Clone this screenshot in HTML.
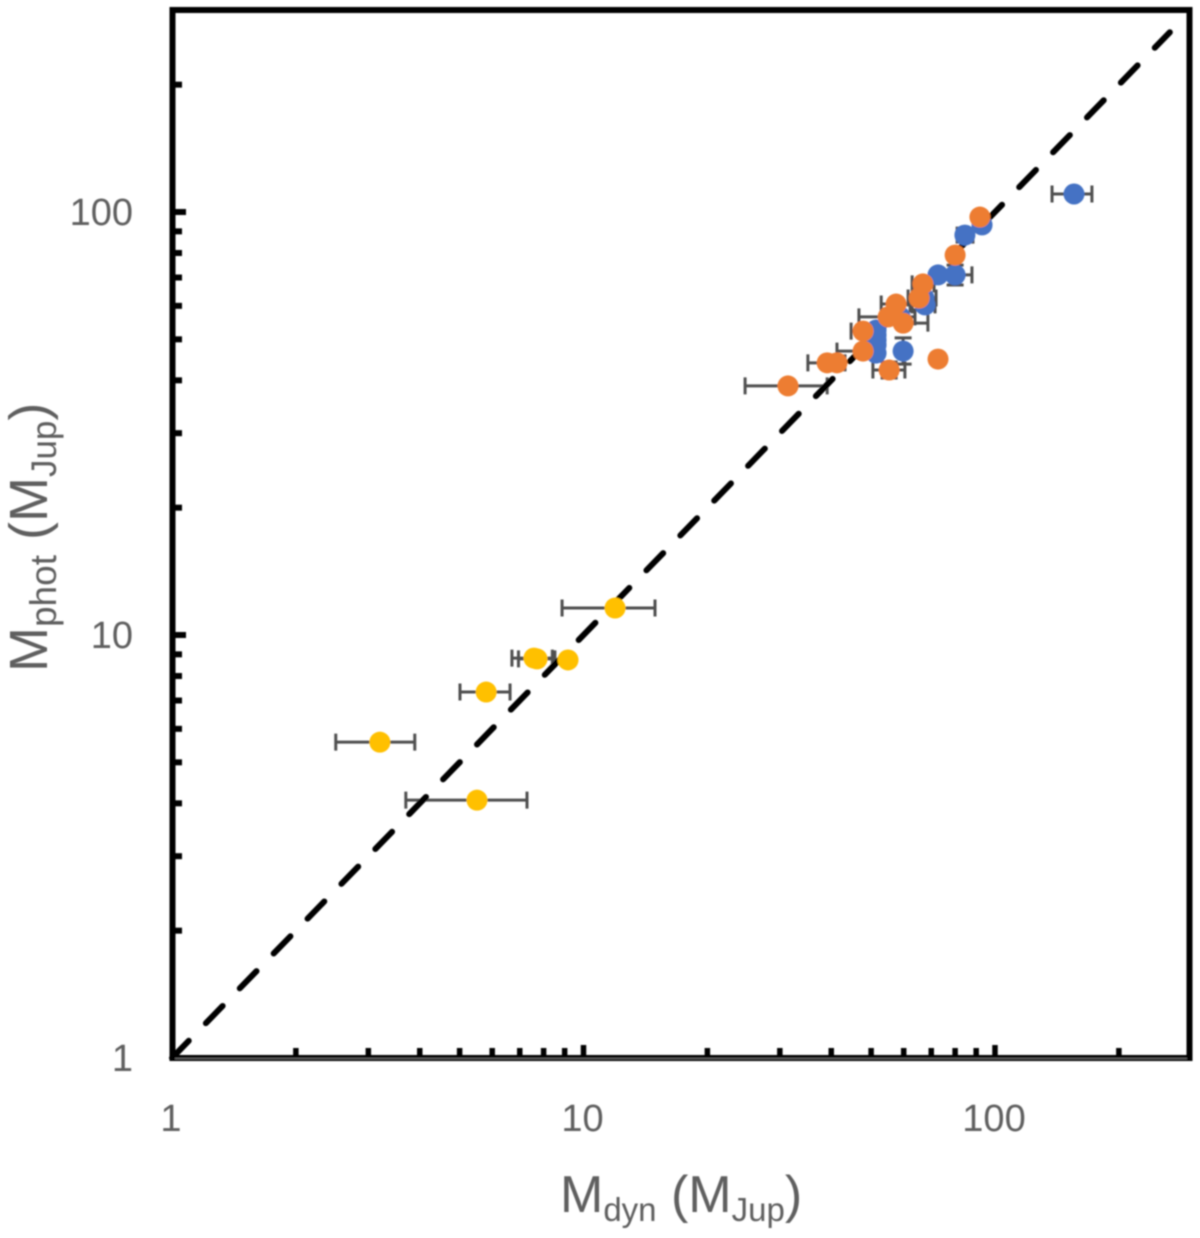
<!DOCTYPE html>
<html lang="en">
<head>
<meta charset="utf-8">
<title>Mphot vs Mdyn</title>
<style>
html,body{margin:0;padding:0;background:#fff;width:1200px;height:1238px;overflow:hidden}
svg{display:block}
text{font-family:"Liberation Sans",sans-serif;fill:#5f5f5f}
</style>
</head>
<body>
<svg id="chart" width="1200" height="1238" viewBox="0 0 1200 1238" xmlns="http://www.w3.org/2000/svg">
<defs><filter id="soft" x="-5%" y="-5%" width="110%" height="110%"><feGaussianBlur stdDeviation="0.7"/></filter></defs>
<g id="root" filter="url(#soft)">
<g id="ticks"></g>
<g id="bars"></g>
<g id="line"></g>
<g id="points"></g>
<rect x="172.5" y="10" width="1017" height="1048" fill="none" stroke="#000" stroke-width="6"/>
<line x1="175" y1="1058.5" x2="1187" y2="1058.5" stroke="#666" stroke-width="1.5"/>
<g id="labels"></g>
<text x="560" y="1212" font-size="52">M<tspan font-size="33" dy="9">dyn</tspan><tspan dy="-9"> (M</tspan><tspan font-size="33" dy="9">Jup</tspan><tspan dy="-9">)</tspan></text>
<text transform="translate(47,672) rotate(-90)" x="0" y="0" font-size="54">M<tspan font-size="37" dy="9">phot</tspan><tspan dy="-9"> (M</tspan><tspan font-size="35" dy="9">Jup</tspan><tspan dy="-9">)</tspan></text>
</g>
</svg>
<script>
const xTickValues = [2,3,4,5,6,7,8,9,10,20,30,40,50,60,70,80,90,100,200];
const yTickValues = [2,3,4,5,6,7,8,9,10,20,30,40,50,60,70,80,90,100,200];
const majorTicks = [10,100];
const xTickLabels = [1,10,100];
const yTickLabels = [1,10,100];
const lineX = [1,266];
const lineY = [1,266];

const blueX = [155.6,93.0,84.5,72.7,80.0,67.6,67.2,51.4,51.4,51.4,51.4,51.4,59.8,58.8];
const blueY = [110.3,93.2,88.2,71.0,71.0,60.3,62.6,52.6,51.2,49.8,48.5,46.4,46.9,56.5];
const blueXLow = [137.6,null,80.9,null,73.5,62.9,null,null,null,null,null,null,null,null];
const blueXHigh = [172,null,88.4,null,87.9,71.5,null,null,null,null,null,null,null,null];
const blueYLow = [null,null,null,null,67.2,null,null,null,null,null,null,null,43.7,null];
const blueYHigh = [null,null,null,null,74.9,null,null,null,null,null,null,null,50.4,null];

const yellowX = [3.20,5.51,5.80,7.58,7.71,9.17,11.93];
const yellowY = [5.58,4.07,7.33,8.82,8.78,8.73,11.58];
const yellowXLow = [2.50,3.70,5.01,6.70,6.95,null,8.87];
const yellowXHigh = [3.89,7.29,6.63,8.40,8.52,null,14.92];
const yellowYLow = [null,null,null,null,null,null,null];
const yellowYHigh = [null,null,null,null,null,null,null];

const orangeX = [91.9,80.0,66.8,65.4,57.5,55.0,59.8,47.8,47.8,39.1,41.3,55.3,72.7,31.4];
const orangeY = [97.3,79.1,67.6,62.6,60.6,56.5,54.6,52.3,46.9,44.0,44.0,42.3,44.9,38.8];
const orangeXLow = [null,null,62.9,61.5,52.9,46.7,52.5,44.7,41.3,35.1,null,50.5,null,24.7];
const orangeXHigh = [null,null,71.1,71.9,62.2,63.9,68.7,51.4,52.5,43.2,null,60.4,null,39.1];
const orangeYLow = [null,null,null,null,null,null,null,null,null,null,null,40.5,null,null];
const orangeYHigh = [null,null,null,null,null,null,null,null,null,null,null,44.2,null,null];

const NS = 'http://www.w3.org/2000/svg';
const xScale = v => 172 + 411.5 * Math.log10(v);
const yScale = v => 1058 - 423 * Math.log10(v);

function make(tag, parent, attrs) {
  const el = document.createElementNS(NS, tag);
  for (const k in attrs) el.setAttribute(k, attrs[k]);
  parent.appendChild(el);
  return el;
}

const ticks = document.getElementById('ticks');
xTickValues.forEach(v => {
  const top = majorTicks.includes(v) ? 1045 : 1048;
  const el = make('line', ticks, {x1: xScale(v), x2: xScale(v), y1: top, y2: 1056, stroke: '#000', 'stroke-width': 5.5});
  
  
});
yTickValues.forEach(v => {
  const right = majorTicks.includes(v) ? 186 : 182;
  const el = make('line', ticks, {x1: 174, x2: right, y1: yScale(v), y2: yScale(v), stroke: '#000', 'stroke-width': 6});
  
  
});

const labels = document.getElementById('labels');
xTickLabels.forEach(v => {
  const el = make('text', labels, {x: xScale(v) - 1, y: 1131, 'font-size': 38, 'text-anchor': 'middle'});
  el.textContent = v;
  
  
});
yTickLabels.forEach(v => {
  const el = make('text', labels, {x: 133, y: yScale(v) + 13, 'font-size': 38, 'text-anchor': 'end'});
  el.textContent = v;
  
  
});

const lineGroup = document.getElementById('line');
const identity = make('line', lineGroup, {
  x1: xScale(lineX[0]), y1: yScale(lineY[0]), x2: xScale(lineX[1]), y2: yScale(lineY[1]),
  stroke: '#000', 'stroke-width': 6, 'stroke-linecap': 'round', 'stroke-dasharray': '24 24.6'
});



const bars = document.getElementById('bars');
const points = document.getElementById('points');
const CAP = 8.5;
const BAR = {stroke: '#505050', 'stroke-width': 3};

function drawSeries(name, color, xs, ys, xLow, xHigh, yLow, yHigh) {
  xs.forEach((x, i) => {
    const cx = xScale(x), cy = yScale(ys[i]);
    if (xLow[i] !== null) {
      const a = xScale(xLow[i]), b = xScale(xHigh[i]);
      const h = make('path', bars, Object.assign({
        d: `M${a} ${cy}H${b}M${a} ${cy - CAP}V${cy + CAP}M${b} ${cy - CAP}V${cy + CAP}`, fill: 'none'
      }, BAR));
      
      
    }
    if (yLow[i] !== null) {
      const a = yScale(yLow[i]), b = yScale(yHigh[i]);
      const v = make('path', bars, Object.assign({
        d: `M${cx} ${a}V${b}M${cx - CAP} ${a}H${cx + CAP}M${cx - CAP} ${b}H${cx + CAP}`, fill: 'none'
      }, BAR));
      
      
    }
    const c = make('circle', points, {cx: cx, cy: cy, r: 10.5, fill: color});
    
    
  });
}

drawSeries('blue', '#4472c4', blueX, blueY, blueXLow, blueXHigh, blueYLow, blueYHigh);
drawSeries('yellow', '#ffc000', yellowX, yellowY, yellowXLow, yellowXHigh, yellowYLow, yellowYHigh);
drawSeries('orange', '#ed7d31', orangeX, orangeY, orangeXLow, orangeXHigh, orangeYLow, orangeYHigh);
</script>
</body>
</html>
